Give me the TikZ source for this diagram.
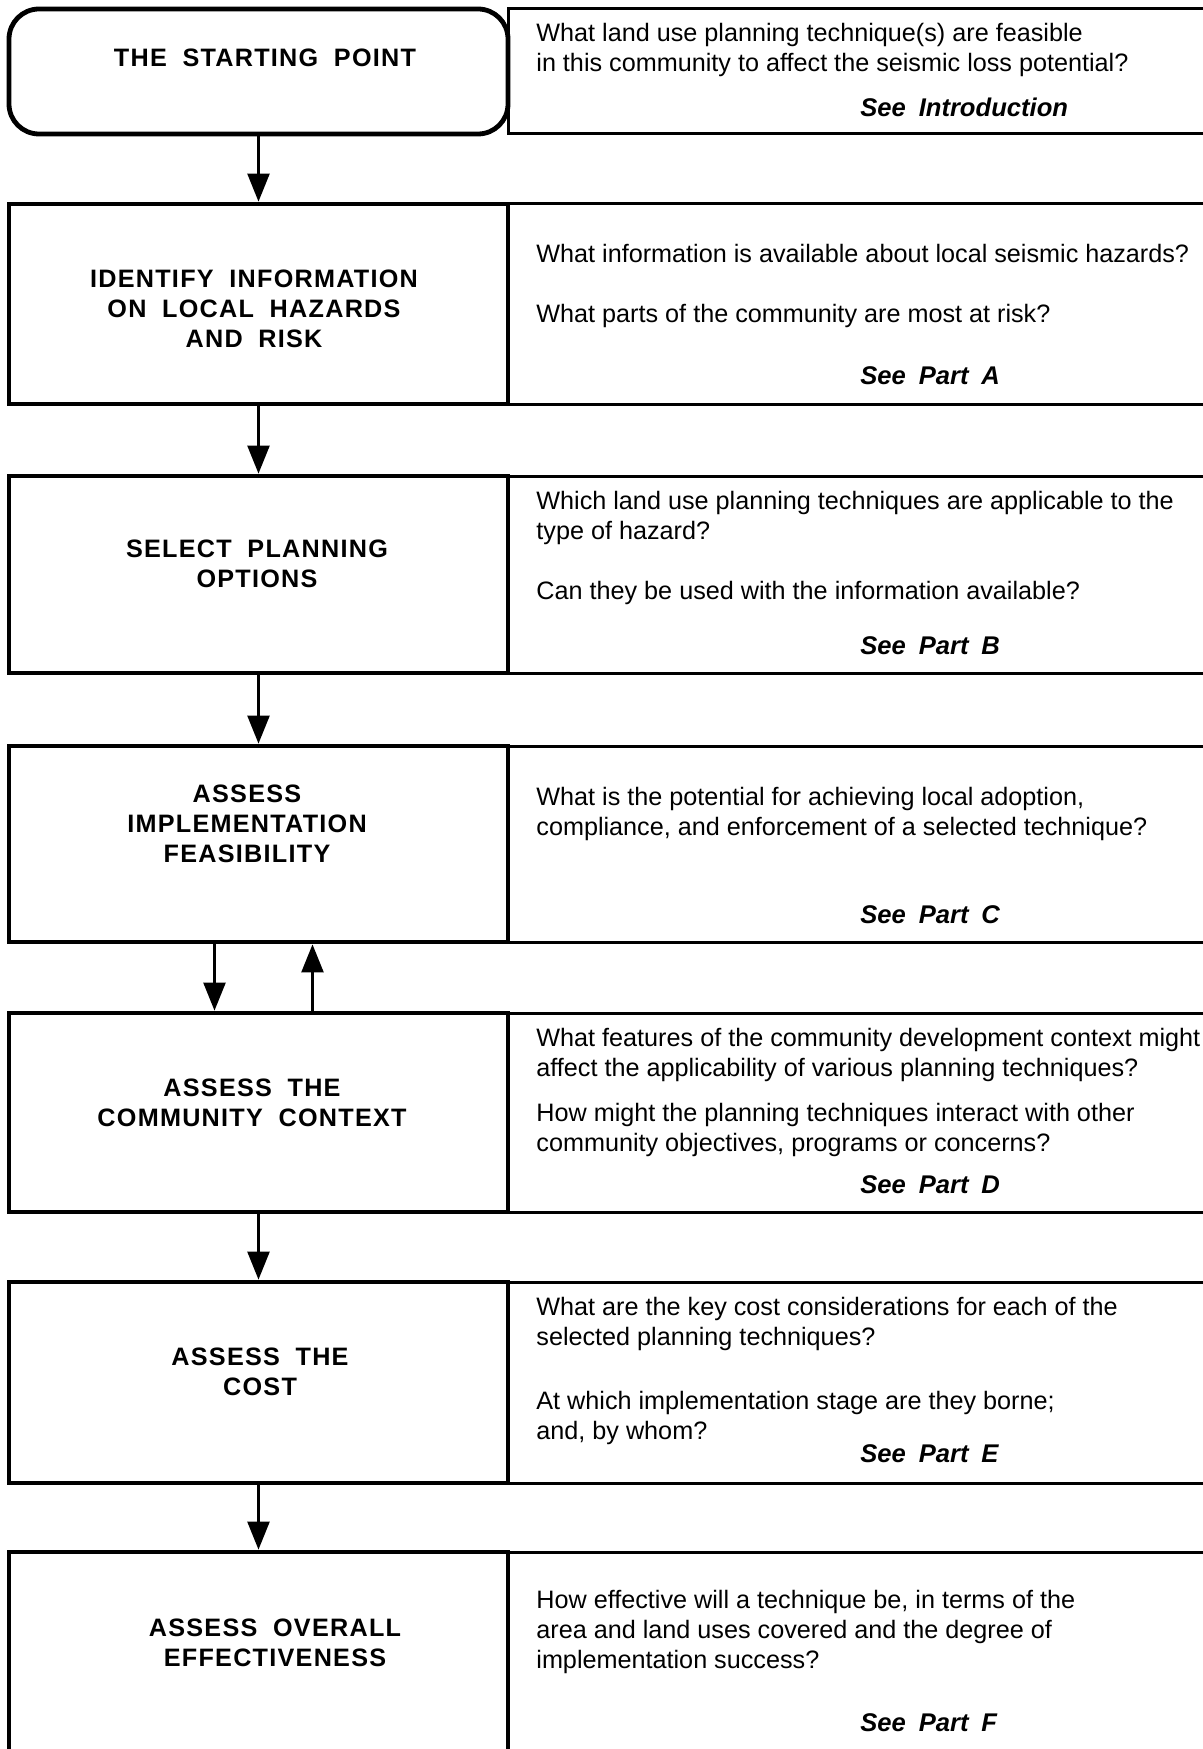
\documentclass[tikz,border=0pt]{standalone}
\usepackage{fontspec}
\setmainfont{Liberation Sans}
\newfontfamily\capsfont{Liberation Sans}[LetterSpace=5,WordSpace=1.9]
\newfontfamily\seefont{Liberation Sans}[WordSpace=1.8]
\usetikzlibrary{arrows.meta,fit}

\tikzset{
  stepbox/.style={draw, line width=2.4pt, inner sep=0pt},
  askbox/.style={draw, line width=1.5pt, inner sep=0pt},
  steptext/.style={align=center, inner sep=0pt, font=\capsfont\bfseries\fontsize{12.6}{15}\selectfont},
  asktext/.style={anchor=north west, align=left, inner sep=0pt, font=\fontsize{12.6}{15}\selectfont},
  seetext/.style={anchor=west, inner sep=0pt, font=\seefont\bfseries\itshape\fontsize{12.8}{15}\selectfont},
}

\begin{document}
\begin{tikzpicture}[x=0.5pt, y=-0.5pt, >={Triangle[length=14pt,width=11pt]}, flow/.style={line width=1.2pt, ->}]

\useasboundingbox (0,0) rectangle (1203,1749);

\node[askbox, fit={(508,9) (1205,134)}] (startq) {};
\node[askbox, fit={(508,204) (1205,404)}] (hazardsq) {};
\node[askbox, fit={(508,476) (1205,673)}] (optionsq) {};
\node[askbox, fit={(508,746) (1205,942)}] (feasq) {};
\node[askbox, fit={(508,1013) (1205,1212)}] (contextq) {};
\node[askbox, fit={(508,1282) (1205,1483)}] (costq) {};
\node[askbox, fit={(508,1552) (1205,1790)}] (effectq) {};

\node[stepbox, rounded corners=15pt, fit={(9,9) (508,134)}] (start) {};
\node[stepbox, fit={(9,204) (508,404)}] (hazards) {};
\node[stepbox, fit={(9,476) (508,673)}] (options) {};
\node[stepbox, fit={(9,746) (508,942)}] (feas) {};
\node[stepbox, fit={(9,1013) (508,1212)}] (context) {};
\node[stepbox, fit={(9,1282) (508,1483)}] (cost) {};
\node[stepbox, fit={(9,1552) (508,1790)}] (effect) {};

\node[steptext] (startlbl) at (265,58) {THE STARTING POINT};
\node[steptext] (hazardslbl) at (254,309) {IDENTIFY INFORMATION\\ON LOCAL HAZARDS\\AND RISK};
\node[steptext] (optionslbl) at (257,564) {SELECT PLANNING\\OPTIONS};
\node[steptext] (feaslbl) at (247,824) {ASSESS\\IMPLEMENTATION\\FEASIBILITY};
\node[steptext] (contextlbl) at (252,1103) {ASSESS THE\\COMMUNITY CONTEXT};
\node[steptext] (costlbl) at (260,1372) {ASSESS THE\\COST};
\node[steptext] (effectlbl) at (275,1643) {ASSESS OVERALL\\EFFECTIVENESS};

\node[asktext] (startask) at (536,23) {What land use planning technique(s) are feasible\\in this community to affect the seismic loss potential?};
\node[asktext] (hazardsask) at (536,244) {What information is available about local seismic hazards?\\[15pt]What parts of the community are most at risk?};
\node[asktext] (optionsask) at (536,491) {Which land use planning techniques are applicable to the\\type of hazard?\\[15pt]Can they be used with the information available?};
\node[asktext] (feasask) at (536,787) {What is the potential for achieving local adoption,\\compliance, and enforcement of a selected technique?};
\node[asktext] (contextask) at (536,1028) {What features of the community development context might\\affect the applicability of various planning techniques?\\[7.5pt]How might the planning techniques interact with other\\community objectives, programs or concerns?};
\node[asktext] (costask) at (536,1297) {What are the key cost considerations for each of the\\selected planning techniques?\\[17pt]At which implementation stage are they borne;\\and, by whom?};
\node[asktext] (effectask) at (536,1590) {How effective will a technique be, in terms of the\\area and land uses covered and the degree of\\implementation success?};

\node[seetext] (startsee) at (860,107) {See Introduction};
\node[seetext] (hazardssee) at (860,376) {See Part A};
\node[seetext] (optionssee) at (860,646) {See Part B};
\node[seetext] (feassee) at (860,915) {See Part C};
\node[seetext] (contextsee) at (860,1185) {See Part D};
\node[seetext] (costsee) at (860,1454) {See Part E};
\node[seetext] (effectsee) at (860,1723) {See Part F};

\draw[flow] (start.south) -- (hazards.north);
\draw[flow] (hazards.south) -- (options.north);
\draw[flow] (options.south) -- (feas.north);
\draw[flow] ([xshift=-22pt]feas.south) -- ([xshift=-22pt]context.north);
\draw[flow] ([xshift=27pt]context.north) -- ([xshift=27pt]feas.south);
\draw[flow] (context.south) -- (cost.north);
\draw[flow] (cost.south) -- (effect.north);

\end{tikzpicture}
\end{document}
